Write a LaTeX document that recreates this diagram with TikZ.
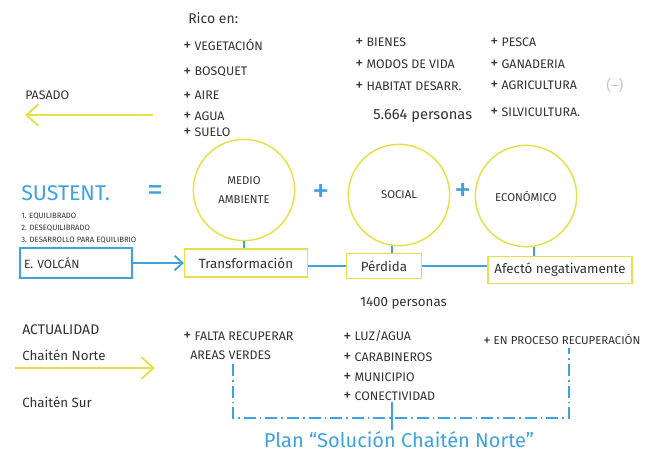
\documentclass[tikz,border=0pt]{standalone}
\usepackage{fontspec}
\setmainfont{Fira Sans}
\usetikzlibrary{arrows.meta}
\definecolor{hy}{RGB}{232,222,70}
\definecolor{hb}{RGB}{62,162,222}
\definecolor{ink}{RGB}{50,50,50}
\newcommand\myplus{\raisebox{-0.5pt}{\scalebox{1.3}{+}}}
\begin{document}
\begin{tikzpicture}[x=0.75pt,y=-0.75pt,
  txt/.style={anchor=west,inner sep=0pt,text=ink,font=\fontsize{9.3}{11}\selectfont},
  small/.style={anchor=west,inner sep=0pt,text=ink,font=\fontsize{5.8}{6}\selectfont},
  hand/.style={inner sep=0pt,text=ink,font=\fontsize{10}{12}\selectfont},
  ycirc/.style={circle,draw=hy,line width=1.1pt,minimum size=76pt,inner sep=0pt,text=ink,align=center,font=\fontsize{8.5}{14}\selectfont},
  ybox/.style={draw=hy,line width=1.1pt,inner sep=2pt,text=ink,font=\fontsize{10}{12}\selectfont},
  bbox/.style={draw=hb,line width=1.3pt,inner sep=2pt,text=ink,font=\fontsize{9}{12}\selectfont},
  bline/.style={draw=hb,line width=1.4pt},
  yarrow/.style={draw=hy,line width=1.4pt,-{Straight Barb[length=9pt,width=16pt,line width=1.4pt]}},
  bdd/.style={draw=hb,line width=1.1pt,dash pattern=on 9pt off 3pt on 1.2pt off 3pt},
  bluetxt/.style={text=hb,inner sep=0pt}]
\useasboundingbox (0,0) rectangle (654,455);

% ---- top lists
\node[txt,font=\fontsize{10.5}{12}\selectfont] (rico) at (188,18) {Rico en:};
\node[txt] (veg) at (183,45) {\myplus{} VEGETACIÓN};
\node[txt] (bos) at (183,72) {\myplus{} BOSQUET};
\node[txt] (aire) at (183,96) {\myplus{} AIRE};
\node[txt] (agua) at (183,116) {\myplus{} AGUA};
\node[txt] (suelo) at (183,132) {\myplus{} SUELO};

\node[txt] (bienes) at (355,42) {\myplus{} BIENES};
\node[txt] (modos) at (355,64) {\myplus{} MODOS DE VIDA};
\node[txt] (habitat) at (355,86) {\myplus{} HABITAT DESARR.};
\node[txt,font=\fontsize{11}{12}\selectfont] (p5664) at (373,116) {5.664 personas};

\node[txt] (pesca) at (490,42) {\myplus{} PESCA};
\node[txt] (gana) at (490,64) {\myplus{} GANADERIA};
\node[txt] (agri) at (490,85) {\myplus{} AGRICULTURA};
\node[txt,text=black!22,font=\fontsize{11}{12}\selectfont] (menos) at (606,85) {(–)};
\node[txt] (silvi) at (490,112) {\myplus{} SILVICULTURA.};

% ---- pasado
\node[txt] (pasado) at (25,95) {PASADO};
\coordinate (pa1) at (153,115);
\coordinate (pa2) at (25,115);
\draw[yarrow] (pa1) -- (pa2);

% ---- sustentabilidad
\node[bluetxt,anchor=west,font=\fontsize{16}{18}\selectfont] (sust) at (21,193) {SUSTENT.};
\node[bluetxt,font=\fontsize{24}{26}\selectfont] (eq) at (155,193) {=};
\node[small] (l1) at (21,216) {1. EQUILIBRADO};
\node[small] (l2) at (21,228) {2. DESEQUILIBRADO};
\node[small] (l3) at (21,240) {3. DESARROLLO PARA EQUILIBRIO};

\node[ycirc] (ma) at (244,190) {MEDIO\\AMBIENTE};
\node[bluetxt,font=\fontsize{26}{28}\selectfont] (plus1) at (321,193) {+};
\node[ycirc] (soc) at (399,195) {SOCIAL};
\node[bluetxt,font=\fontsize{26}{28}\selectfont] (plus2) at (463,192) {+};
\node[ycirc] (eco) at (526,196) {ECONÓMICO};

% ---- boxes
\node[bbox,minimum width=84pt,minimum height=22pt,text width=78pt,align=left] (volcan) at (76,263) {E. VOLCÁN};
\node[ybox,minimum width=92pt,minimum height=21pt] (trans) at (246,263) {Transformación};
\node[ybox,minimum width=56pt,minimum height=19pt] (perd) at (384,266) {Pérdida};
\node[ybox,minimum width=108pt,minimum height=20pt] (afec) at (560,270) {Afectó negativamente};

\draw[bline,-{Straight Barb[length=6pt,width=11pt,line width=1.4pt]}] (volcan.east) -- (trans.west |- volcan.east);
\draw[bline] (trans.east |- perd.west) -- (perd.west);
\draw[bline] (perd.east) -- (afec.west |- perd.east);
\draw[bline] (ma.south) -- (trans.north -| ma.south);
\draw[bline] (soc.south -| perd.north) ++(8,0) coordinate (st) -- (st |- perd.north);
\draw[bline] (eco.south) ++(8,0) coordinate (et) -- (et |- afec.north);

\node[hand,anchor=west] (p1400) at (360,303) {1400 personas};

% ---- actualidad
\node[txt,font=\fontsize{10.5}{12}\selectfont] (actual) at (22,330) {ACTUALIDAD};
\node[hand,anchor=west] (norte) at (22,355) {Chaitén Norte};
\coordinate (an1) at (15,368);
\coordinate (an2) at (155,368);
\draw[yarrow] (an1) -- (an2);
\node[hand,anchor=west] (sur) at (22,402) {Chaitén Sur};

\node[txt] (falta) at (183,336) {\myplus{} FALTA RECUPERAR};
\node[txt] (areas) at (190,355) {AREAS VERDES};

\node[txt] (luz) at (343,336) {\myplus{} LUZ/AGUA};
\node[txt] (carab) at (343,357) {\myplus{} CARABINEROS};
\node[txt] (muni) at (343,377) {\myplus{} MUNICIPIO};
\node[txt] (conec) at (343,396) {\myplus{} CONECTIVIDAD};

\node[txt,font=\fontsize{8.6}{9}\selectfont] (enproc) at (483,340) {\myplus{} EN PROCESO RECUPERACIÓN};

% ---- plan bracket
\coordinate (b1) at (233,364);
\coordinate (b2) at (233,418);
\coordinate (b3) at (569,418);
\coordinate (b4) at (569,348);
\draw[bdd] (b1) -- (b2) -- (b3) -- (b4);
\coordinate (t1) at (392,402);
\coordinate (t2) at (392,430);
\draw[bline,line width=1.1pt] (t1) -- (t2);

\node[bluetxt,font=\fontsize{15}{17}\selectfont] (plan) at (399,440) {Plan “Solución Chaitén Norte”};
\end{tikzpicture}
\end{document}
